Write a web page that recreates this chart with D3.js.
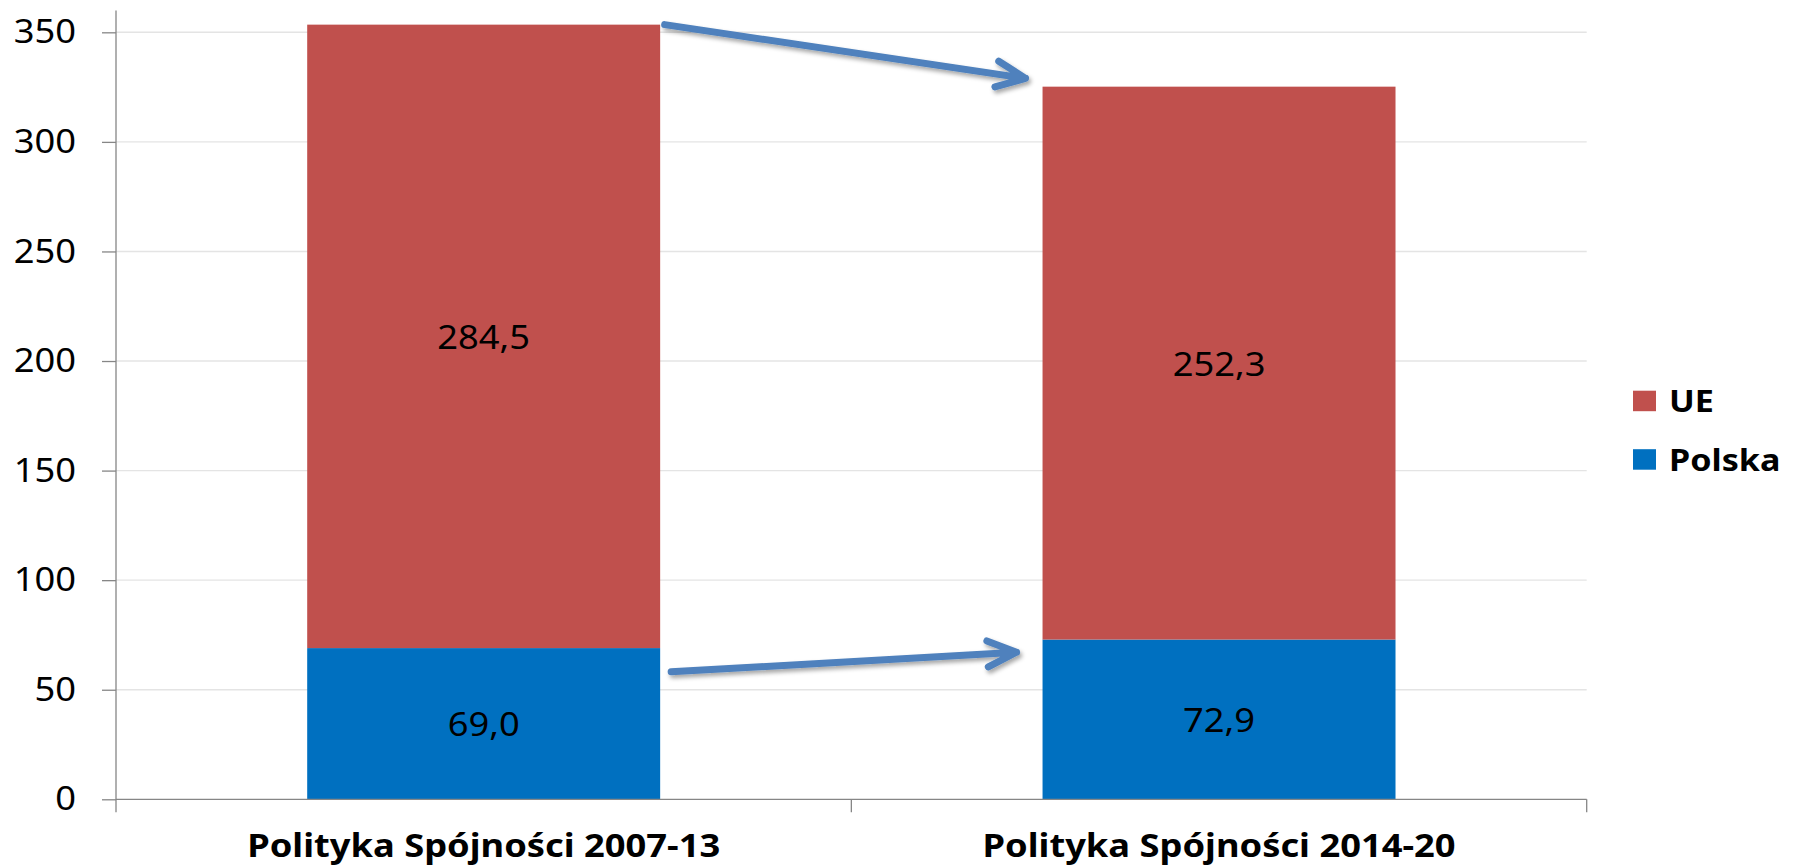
<!DOCTYPE html>
<html>
<head>
<meta charset="utf-8">
<script src="https://cdn.jsdelivr.net/npm/d3@7"></script>
<style>
    body { margin: 0; background: #ffffff; }
    text { font-family: "Noto Sans", "Open Sans", sans-serif; }
</style>
</head>
<body>
<div id="drawing_region"></div>
<script>
// values
const categories = ['Polityka Spójności 2007-13', 'Polityka Spójności 2014-20'];
const polska = [69.0, 72.9];
const ue = [284.5, 252.3];
const seriesNames = ['Polska', 'UE'];
const seriesColors = ['#0070C0', '#C0504D'];
const legendOrder = ['UE', 'Polska'];
const yTicks = [0, 50, 100, 150, 200, 250, 300, 350];
const yMax = 360;
// arrows: value at start (first bar) and at tip (second bar)
const arrowTop = [353.5, 329.0];
const arrowBottom = [58.2, 67.1];

const data = categories.map( (c, i) => ({ label: c, Polska: polska[i], UE: ue[i] }) );

const locale = d3.formatLocale({ decimal: ',', thousands: ' ', grouping: [3], currency: ['', ''] });
const fmt = locale.format('.1f');

var config = {
    parent: '#drawing_region',
    width: 1799,
    height: 866,
    margin: {top:10.4, right:212.3, bottom:66.7, left:116}
};

// the original font is a bit wider than Noto Sans, stretch text horizontally
const TEXT_STRETCH = 1.1;
function stretchText( sel ) {
    sel.each(function() {
        const t = d3.select(this);
        const x = +t.attr('x') || 0;
        const y = +t.attr('y') || 0;
        t.attr('x', 0).attr('y', 0)
            .attr('transform', `translate(${x},${y}) scale(${TEXT_STRETCH},1)`);
    });
}

class StackedBarChart {

    constructor( config, data ) {
        this.config = config;
        this.data = data;
        this.init();
    }

    init() {
        let self = this;

        self.svg = d3.select( self.config.parent )
            .append('svg')
            .attr('width', self.config.width)
            .attr('height', self.config.height);

        // shadow under the annotation arrows
        const filter = self.svg.append('defs').append('filter')
            .attr('id', 'shadow')
            .attr('x', '-20%').attr('y', '-50%')
            .attr('width', '140%').attr('height', '200%');
        filter.append('feDropShadow')
            .attr('dx', 2).attr('dy', 3)
            .attr('stdDeviation', 2)
            .attr('flood-color', '#000')
            .attr('flood-opacity', 0.35);

        self.chart = self.svg.append('g')
            .attr('transform', `translate(${self.config.margin.left}, ${self.config.margin.top})`);

        self.inner_width = self.config.width - self.config.margin.left - self.config.margin.right;
        self.inner_height = self.config.height - self.config.margin.top - self.config.margin.bottom;

        self.xscale = d3.scaleBand()
            .domain( categories )
            .range( [0, self.inner_width] )
            .paddingInner(0.52)
            .paddingOuter(0.26);

        // full-width bands for the category dividers
        self.xband = d3.scaleBand()
            .domain( categories )
            .range( [0, self.inner_width] );

        self.yscale = d3.scaleLinear()
            .domain( [0, yMax] )
            .range( [self.inner_height, 0] );

        self.yaxis = d3.axisLeft( self.yscale )
            .tickValues( yTicks )
            .tickSize(14)
            .tickSizeOuter(0)
            .tickPadding(26);
    }

    update() {
        let self = this;
        self.stacked = d3.stack().keys( seriesNames )( self.data );
        self.color = d3.scaleOrdinal().domain( seriesNames ).range( seriesColors );
        self.render();
    }

    render() {
        let self = this;
        const h = self.inner_height;

        // gridlines
        self.chart.append('g')
            .selectAll('line')
            .data( yTicks.filter(d => d > 0) )
            .join('line')
            .attr('x1', 0)
            .attr('x2', self.inner_width)
            .attr('y1', d => self.yscale(d))
            .attr('y2', d => self.yscale(d))
            .attr('stroke', '#e4e4e4')
            .attr('stroke-width', 1.4);

        // bars
        self.chart.append('g')
            .selectAll('g')
            .data( self.stacked )
            .join('g')
            .attr('fill', d => self.color(d.key))
            .selectAll('rect')
            .data( d => d )
            .join('rect')
            .attr('x', d => self.xscale(d.data.label))
            .attr('y', d => self.yscale(d[1]))
            .attr('width', self.xscale.bandwidth())
            .attr('height', d => self.yscale(d[0]) - self.yscale(d[1]));

        // value labels
        self.chart.append('g')
            .selectAll('g')
            .data( self.stacked )
            .join('g')
            .selectAll('text')
            .data( d => d.map(v => ({ v: v, key: d.key })) )
            .join('text')
            .attr('x', d => self.xscale(d.v.data.label) + self.xscale.bandwidth() / 2)
            .attr('y', d => (self.yscale(d.v[0]) + self.yscale(d.v[1])) / 2)
            .attr('dy', '0.38em')
            .attr('text-anchor', 'middle')
            .attr('font-size', 33)
            .attr('fill', '#000')
            .text( d => fmt(d.v.data[d.key]) )
            .call( stretchText );

        // y axis
        const yg = self.chart.append('g').call( self.yaxis );
        yg.select('.domain').remove();
        yg.selectAll('.tick line').attr('stroke', '#868686').attr('stroke-width', 1.3);
        yg.selectAll('.tick text')
            .attr('font-size', 33)
            .attr('font-family', '"Noto Sans", sans-serif')
            .attr('fill', '#000')
            .call( stretchText );

        self.chart.append('line')
            .attr('x1', 0).attr('x2', 0)
            .attr('y1', self.yscale(yMax))
            .attr('y2', h + 13)
            .attr('stroke', '#868686')
            .attr('stroke-width', 1.3);

        // x axis
        self.chart.append('line')
            .attr('x1', 0).attr('x2', self.inner_width)
            .attr('y1', h).attr('y2', h)
            .attr('stroke', '#868686')
            .attr('stroke-width', 1.3);

        const dividers = categories.map(c => self.xband(c)).concat([self.inner_width]);
        self.chart.append('g')
            .selectAll('line')
            .data( dividers.slice(1) )
            .join('line')
            .attr('x1', d => d).attr('x2', d => d)
            .attr('y1', h).attr('y2', h + 13)
            .attr('stroke', '#868686')
            .attr('stroke-width', 1.3);

        self.chart.append('g')
            .selectAll('text')
            .data( categories )
            .join('text')
            .attr('x', d => self.xscale(d) + self.xscale.bandwidth() / 2)
            .attr('y', h + 58)
            .attr('text-anchor', 'middle')
            .attr('font-size', 33)
            .attr('font-weight', 'bold')
            .attr('fill', '#000')
            .text( d => d )
            .call( stretchText );

        // arrows between the bars
        const bw = self.xscale.bandwidth();
        const leftEdge = self.xscale(categories[0]) + bw;
        const rightEdge = self.xscale(categories[1]);
        const arrows = [
            { x1: leftEdge + 4.5, y1: self.yscale(arrowTop[0]), x2: rightEdge - 17, y2: self.yscale(arrowTop[1]) },
            { x1: leftEdge + 11, y1: self.yscale(arrowBottom[0]), x2: rightEdge - 26, y2: self.yscale(arrowBottom[1]) }
        ];
        const arrowPath = a => {
            const dx = a.x2 - a.x1, dy = a.y2 - a.y1;
            const len = Math.sqrt(dx * dx + dy * dy);
            const ux = dx / len, uy = dy / len;
            const back = 29, side = 13;
            const p = d3.path();
            p.moveTo(a.x1, a.y1);
            p.lineTo(a.x2, a.y2);
            p.moveTo(a.x2 - back * ux - side * uy, a.y2 - back * uy + side * ux);
            p.lineTo(a.x2, a.y2);
            p.lineTo(a.x2 - back * ux + side * uy, a.y2 - back * uy - side * ux);
            return p.toString();
        };
        self.chart.append('g')
            .attr('filter', 'url(#shadow)')
            .selectAll('path')
            .data( arrows )
            .join('path')
            .attr('d', arrowPath)
            .attr('fill', 'none')
            .attr('stroke', '#4F81BD')
            .attr('stroke-width', 7)
            .attr('stroke-linecap', 'round')
            .attr('stroke-linejoin', 'round');

        // legend
        const legend = self.svg.append('g')
            .attr('transform', 'translate(1633, 390.7)');
        const item = legend.selectAll('g')
            .data( legendOrder )
            .join('g')
            .attr('transform', (d, i) => `translate(0, ${i * 58.5})`);
        item.append('rect')
            .attr('width', 23)
            .attr('height', 20.5)
            .attr('fill', d => self.color(d));
        item.append('text')
            .attr('x', 36)
            .attr('y', 21.5)
            .attr('font-size', 31)
            .attr('font-weight', 'bold')
            .attr('fill', '#000')
            .text( d => d )
            .call( stretchText );
    }
}

const chart = new StackedBarChart( config, data );
chart.update();
</script>
</body>
</html>
